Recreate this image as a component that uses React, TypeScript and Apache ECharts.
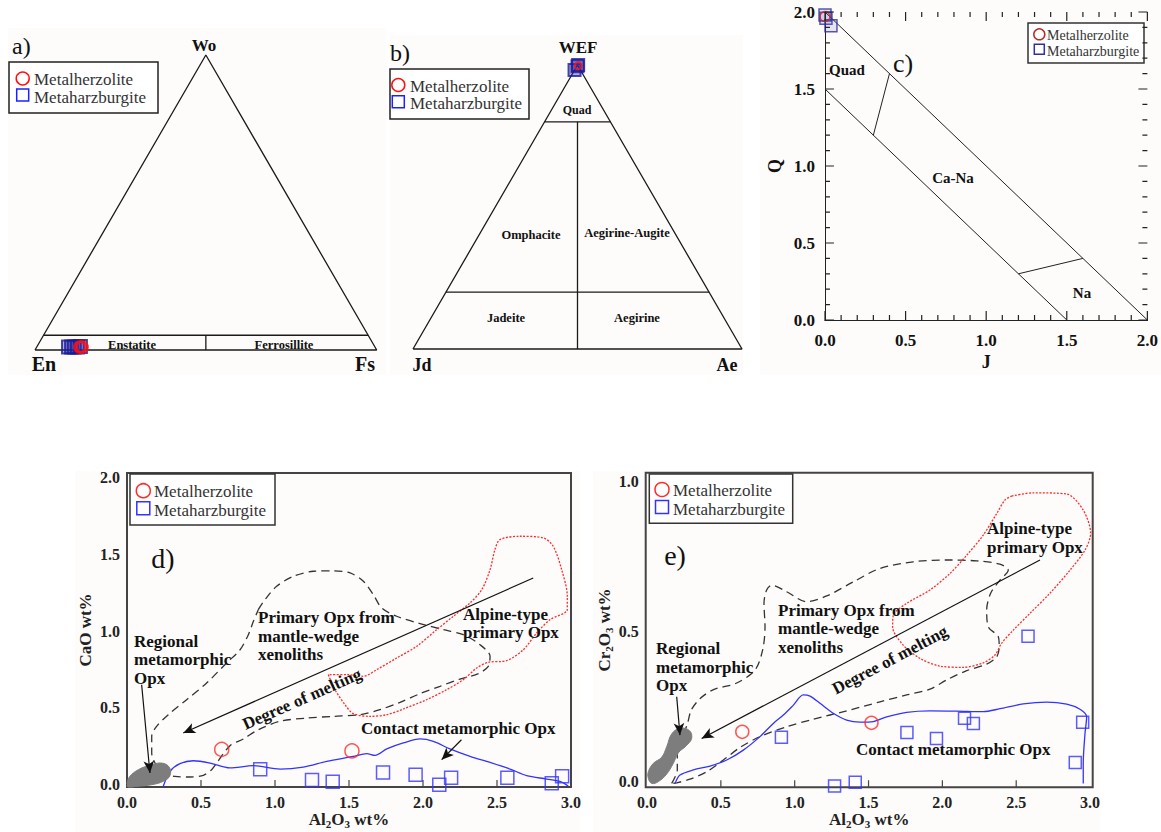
import React, { useEffect, useRef } from 'react';
import * as echarts from 'echarts';

const FONT = '"Liberation Serif", "Times New Roman", serif';

// ---------- Panel a : Wo-En-Fs ternary, points as [Wo %, Fs %] ----------
const triA = [[0, 0], [0, 100], [100, 0], [0, 0]];
const bandA = [[5, 0], [5, 95]];
const dividerA = [[0, 50], [5, 47.5]];
const lherzA = [[1.0, 12.6], [1.0, 13.3]];
const harzA = [[1.0, 9.3], [1.0, 10.2], [1.0, 11.0], [1.0, 11.9], [1.2, 12.7]];

// ---------- Panel b : WEF-Jd-Ae ternary, points as [WEF %, Ae %] ----------
const triB = [[0, 0], [0, 100], [100, 0], [0, 0]];
const quadLineB = [[80, 0], [80, 20]];
const lowLineB = [[20, 0], [20, 80]];
const splitB = [[80, 10], [0, 50]];
const lherzB = [[99.8, 0.3]];
const harzB = [[98.2, 0], [99.6, 0.2], [100, 0.2]];

// ---------- Panel c : Q vs J ----------
const cOuter = [[0, 2], [2, 0]];
const cInner = [[0, 1.5], [1.5, 0]];
const cQuadSplit = [[0.3, 1.2], [0.4, 1.6]];
const cNaSplit = [[1.2, 0.3], [1.6, 0.4]];
const lherzC = [[0.0, 1.97]];
const harzC = [[0.0, 1.98], [0.006, 1.96], [0.037, 1.91]];
const cTickValues = [0, 0.1, 0.2, 0.3, 0.4, 0.5, 0.6, 0.7, 0.8, 0.9, 1.0, 1.1, 1.2, 1.3, 1.4, 1.5, 1.6, 1.7, 1.8, 1.9, 2.0];
const cLabelValues = [0, 0.5, 1.0, 1.5, 2.0];

// ---------- Panel d : CaO vs Al2O3 ----------
const dTicksX = [0, 0.5, 1.0, 1.5, 2.0, 2.5, 3.0];
const dTicksY = [0, 0.5, 1.0, 1.5, 2.0];
const lherzD = [[0.64, 0.23], [1.52, 0.22]];
const harzD = [[0.90, 0.10], [1.25, 0.03], [1.39, 0.02], [1.73, 0.08], [1.95, 0.065], [2.11, 0.0], [2.19, 0.045], [2.57, 0.045], [2.87, 0.01], [2.94, 0.055]];
const mantleD = [
  [0.887, 1.14], [0.932, 1.205], [1.011, 1.292], [1.124, 1.357], [1.259, 1.39], [1.394, 1.393], [1.507, 1.379], [1.597, 1.325],
  [1.664, 1.238], [1.721, 1.151], [1.822, 1.097], [1.98, 1.049], [2.137, 1.01], [2.272, 0.977], [2.385, 0.912], [2.453, 0.836],
  [2.441, 0.771], [2.374, 0.723], [2.25, 0.688], [2.115, 0.641], [1.98, 0.593], [1.845, 0.536], [1.709, 0.489], [1.574, 0.456],
  [1.394, 0.445], [1.214, 0.434], [1.034, 0.413], [0.887, 0.358], [0.786, 0.298], [0.696, 0.254], [0.606, 0.141], [0.572, 0.098],
  [0.516, 0.061], [0.426, 0.05], [0.324, 0.054], [0.245, 0.08], [0.196, 0.13], [0.167, 0.206], [0.167, 0.315], [0.2, 0.38],
  [0.279, 0.456], [0.403, 0.554], [0.538, 0.662], [0.673, 0.793], [0.764, 0.879], [0.82, 0.977], [0.854, 1.064], [0.887, 1.14]
];
const alpineD = [
  [1.36, 0.717], [1.405, 0.619], [1.473, 0.521], [1.529, 0.463], [1.642, 0.445], [1.755, 0.456], [1.867, 0.493], [2.025, 0.554],
  [2.16, 0.619], [2.272, 0.684], [2.363, 0.76], [2.441, 0.797], [2.565, 0.808], [2.678, 0.879], [2.768, 0.988], [2.858, 1.075],
  [2.975, 1.14], [2.975, 1.227], [2.937, 1.4], [2.88, 1.553], [2.813, 1.607], [2.655, 1.618], [2.52, 1.596], [2.486, 1.531],
  [2.453, 1.4], [2.397, 1.27], [2.318, 1.184], [2.205, 1.097], [2.093, 1.01], [1.957, 0.901], [1.822, 0.825], [1.687, 0.749],
  [1.597, 0.706], [1.484, 0.717], [1.36, 0.717]
];
const contactD = [
  [0.245, -0.01], [0.291, 0.087], [0.358, 0.137], [0.448, 0.156], [0.561, 0.141], [0.696, 0.109], [0.853, 0.124], [1.034, 0.102],
  [1.191, 0.115], [1.349, 0.152], [1.529, 0.184], [1.62, 0.202], [1.676, 0.191], [1.755, 0.233], [1.867, 0.272], [1.98, 0.298],
  [2.07, 0.282], [2.182, 0.233], [2.318, 0.184], [2.453, 0.145], [2.588, 0.102], [2.7, 0.059], [2.836, 0.037], [2.926, 0.021], [2.982, -0.01]
];
const regionalD = [
  [0.0, 0.0], [0.016, 0.05], [0.077, 0.098], [0.155, 0.126], [0.234, 0.141], [0.286, 0.113], [0.29, 0.059], [0.245, 0.022],
  [0.167, 0.0], [0.077, -0.01], [0.007, -0.015]
];
const arrowsD = [
  [[2.745, 1.346], [0.38, 0.337]],
  [[0.099, 0.651], [0.155, 0.076]],
  [[2.26, 0.293], [2.126, 0.163]]
];

// ---------- Panel e : Cr2O3 vs Al2O3 ----------
const eTicksX = [0, 0.5, 1.0, 1.5, 2.0, 2.5, 3.0];
const eTicksY = [0, 0.5, 1.0];
const lherzE = [[0.645, 0.164], [1.52, 0.194]];
const harzE = [[0.91, 0.146], [1.27, -0.017], [1.41, -0.004], [1.76, 0.162], [1.96, 0.142], [2.15, 0.209], [2.21, 0.192], [2.58, 0.483], [2.90, 0.062], [2.95, 0.196]];
const mantleE = [
  [0.167, -0.008], [0.205, 0.037], [0.205, 0.087], [0.23, 0.142], [0.27, 0.185], [0.3, 0.237], [0.36, 0.275], [0.45, 0.305],
  [0.6, 0.325], [0.731, 0.37], [0.783, 0.437], [0.799, 0.514], [0.792, 0.592], [0.81, 0.637], [0.844, 0.653], [0.946, 0.631],
  [1.081, 0.598], [1.217, 0.617], [1.397, 0.664], [1.578, 0.709], [1.803, 0.731], [2.029, 0.737], [2.232, 0.734], [2.39, 0.723],
  [2.446, 0.703], [2.39, 0.67], [2.327, 0.626], [2.3, 0.57], [2.311, 0.514], [2.379, 0.481], [2.385, 0.448], [2.368, 0.414],
  [2.3, 0.39], [2.165, 0.368], [2.029, 0.337], [1.916, 0.306], [1.758, 0.287], [1.578, 0.264], [1.352, 0.234], [1.126, 0.206],
  [0.946, 0.181], [0.765, 0.148], [0.63, 0.112], [0.517, 0.07], [0.404, 0.031], [0.291, 0.006], [0.201, -0.006], [0.167, -0.008]
];
const alpineE = [
  [2.469, 0.95], [2.615, 0.961], [2.841, 0.957], [2.954, 0.903], [3.004, 0.826], [2.966, 0.77], [2.864, 0.703], [2.728, 0.626],
  [2.593, 0.559], [2.48, 0.503], [2.401, 0.459], [2.356, 0.42], [2.277, 0.394], [2.142, 0.379], [1.984, 0.383], [1.848, 0.409],
  [1.735, 0.453], [1.663, 0.514], [1.668, 0.553], [1.758, 0.592], [1.916, 0.637], [2.051, 0.692], [2.165, 0.753], [2.277, 0.82],
  [2.368, 0.892], [2.424, 0.937], [2.469, 0.95]
];
const contactE = [
  [0.19, -0.008], [0.223, 0.02], [0.314, 0.037], [0.427, 0.05], [0.54, 0.07], [0.652, 0.103], [0.765, 0.148], [0.855, 0.192],
  [0.923, 0.22], [0.991, 0.253], [1.058, 0.287], [1.104, 0.283], [1.171, 0.259], [1.261, 0.226], [1.352, 0.203], [1.442, 0.196],
  [1.532, 0.198], [1.623, 0.214], [1.758, 0.229], [1.916, 0.234], [2.097, 0.233], [2.277, 0.231], [2.39, 0.241], [2.548, 0.257],
  [2.706, 0.263], [2.842, 0.256], [2.932, 0.239], [2.977, 0.214], [2.966, 0.159], [2.954, 0.059], [2.954, -0.008]
];
const regionalE = [
  [0.009, 0.031], [0.043, 0.059], [0.099, 0.079], [0.133, 0.114], [0.167, 0.157], [0.223, 0.176], [0.287, 0.168], [0.302, 0.142],
  [0.264, 0.117], [0.212, 0.094], [0.178, 0.059], [0.133, 0.023], [0.077, -0.002], [0.032, -0.008], [0.009, 0.009]
];
const arrowsE = [
  [[2.661, 0.737], [0.37, 0.142]],
  [[0.201, 0.281], [0.223, 0.153]]
];

const RED = '#ff2a2a';
const BLUE = '#3333ff';

// grid boxes (pixels) and axis extents
const C_BOX = { left: 825, top: 12, width: 325, height: 308 };
const D_BOX = { left: 127, top: 473, width: 444, height: 314 };
const E_BOX = { left: 645.7, top: 472.7, width: 447, height: 314.6 };
const C_EXT = { x0: 0, x1: 2, y0: 0, y1: 2 };
const D_EXT = { x0: 0, x1: 3, y0: -0.015, y1: 2.03 };
const E_EXT = { x0: -0.009, x1: 3.018, y0: -0.021, y1: 1.028 };

const tern = (p: number[]) => [(p[1] + p[0] / 2) / 100, p[0] / 100];

const lineSeries = (data: any[], idx: number, style: any, smooth: number | boolean = false, extra: any = {}) => ({
  type: 'line', data, xAxisIndex: idx, yAxisIndex: idx, symbol: 'none', smooth, silent: true, clip: false,
  lineStyle: style, z: 3, ...extra,
});

const scatter = (name: string, data: number[][], idx: number, symbol: string, size: number, color: string, fill = 'transparent', bw = 1.5) => ({
  type: 'scatter', name, data, xAxisIndex: idx, yAxisIndex: idx, symbol, symbolSize: size, clip: false, silent: true, z: 5,
  itemStyle: { color: fill, borderColor: color, borderWidth: bw },
});

const blob = (pts: number[][], idx: number) => ({
  type: 'custom', xAxisIndex: idx, yAxisIndex: idx, silent: true, clip: false, z: 4,
  data: [pts[0]],
  renderItem: (params: any, api: any) => ({
    type: 'polygon',
    shape: { points: pts.map((p) => api.coord(p)), smooth: 0.4 },
    style: { fill: '#7d7d7d', stroke: '#7d7d7d' },
  }),
});

// tick marks as data-space segments: pixel length converted with the grid's scale
const isMajor = (v: number) => Math.abs(v * 2 - Math.round(v * 2)) < 1e-6;
const edgeTicks = (ext: any, box: any, xs: number[], ys: number[], lenFn: (v: number) => number, sides: string[], outward = false) => {
  const ux = (ext.x1 - ext.x0) / box.width;
  const uy = (ext.y1 - ext.y0) / box.height;
  const s = outward ? -1 : 1;
  const out: number[][][] = [];
  if (sides.includes('bottom')) xs.forEach((v) => out.push([[v, ext.y0], [v, ext.y0 + s * lenFn(v) * uy]]));
  if (sides.includes('top')) xs.forEach((v) => out.push([[v, ext.y1], [v, ext.y1 - s * lenFn(v) * uy]]));
  if (sides.includes('left')) ys.forEach((v) => out.push([[ext.x0, v], [ext.x0 + s * lenFn(v) * ux, v]]));
  if (sides.includes('right')) ys.forEach((v) => out.push([[ext.x1, v], [ext.x1 - s * lenFn(v) * ux, v]]));
  return out;
};
const cTicks = edgeTicks(C_EXT, C_BOX, cTickValues, cTickValues, (v) => (isMajor(v) ? 9 : 5), ['bottom', 'top', 'left', 'right']);
const dTicks = [
  ...edgeTicks(D_EXT, D_BOX, dTicksX.filter((v) => v > 0 && v < 3), [], () => 7, ['bottom']),
  ...edgeTicks(D_EXT, D_BOX, [], dTicksY, () => 5, ['left'], true),
];
const eTicks = [
  ...edgeTicks(E_EXT, E_BOX, eTicksX.filter((v) => v > 0 && v < 3), [], () => 7, ['bottom']),
  ...edgeTicks(E_EXT, E_BOX, [], eTicksY, () => 5, ['left'], true),
];
// one broken polyline per panel: segment, gap, segment ...
const tickPath = (segs: number[][][]) => segs.flatMap((s) => [s[0], s[1], '-']);

const tickLineSeries = (segs: number[][][], idx: number, color: string) => ({
  type: 'line', data: tickPath(segs), xAxisIndex: idx, yAxisIndex: idx, symbol: 'none', silent: true, clip: false,
  connectNulls: false, z: 20, lineStyle: { color, width: 1.2 },
});

const arrowLines = (segs: number[][][]) => ({
  silent: true,
  symbol: ['none', 'arrow'],
  symbolSize: [8, 12],
  label: { show: false },
  emphasis: { disabled: true },
  lineStyle: { color: '#111', width: 1.2, type: 'solid' },
  data: segs.map((a) => [{ coord: a[0] }, { coord: a[1] }]),
});

const txt = (text: string, x: number, y: number, size: number, bold = true, align = 'left', rotDeg = 0, fill = '#111', extra: any = {}) => ({
  type: 'text', x, y, rotation: (rotDeg * Math.PI) / 180, z: 10,
  style: {
    text, fill, fontSize: size, fontFamily: FONT, fontWeight: bold ? 'bold' : 'normal',
    align, verticalAlign: 'middle', textAlign: align, textVerticalAlign: 'middle', ...extra,
  },
});

const legend = (x: number, y: number, w: number, h: number, mx: number, tx: number, y1: number, y2: number, fs: number, r: number, sq: number, red: string, blue: string, stroke = '#333') => [
  { type: 'rect', z: 9, shape: { x, y, width: w, height: h }, style: { fill: '#fff', stroke, lineWidth: 1.5 } },
  { type: 'circle', z: 10, shape: { cx: mx, cy: y1, r }, style: { fill: 'none', stroke: red, lineWidth: 1.5 } },
  { type: 'rect', z: 10, shape: { x: mx - sq / 2, y: y2 - sq / 2, width: sq, height: sq }, style: { fill: 'none', stroke: blue, lineWidth: 1.5 } },
  txt('Metalherzolite', tx, y1 + 1, fs, false, 'left', 0, '#333'),
  txt('Metaharzburgite', tx, y2 + 2, fs, false, 'left', 0, '#333'),
];

const bg = (x: number, y: number, w: number, h: number) => ({
  type: 'rect', z: -5, shape: { x, y, width: w, height: h }, style: { fill: '#fdfcfa', stroke: 'none' },
});

const fmt = (v: number) => v.toFixed(1);

const labelD = { fontSize: 16, fontWeight: 'bold', fontFamily: FONT, color: '#222' };
const rich = {
  b: { fontSize: 17, fontWeight: 'bold', fontFamily: FONT, color: '#222' },
  s: { fontSize: 11, fontWeight: 'bold', fontFamily: FONT, color: '#222', padding: [9, 0, 0, 0] },
};

const hiddenAxis = (gridIndex: number) => ({ type: 'value', gridIndex, min: 0, max: 1, show: false });

const cAxisCommon = {
  type: 'value', gridIndex: 2, min: C_EXT.x0, max: C_EXT.x1,
  axisLine: { show: true, lineStyle: { color: '#222', width: 1 } },
  axisTick: { show: false },
  splitLine: { show: false },
};

export default function App() {
  const ref = useRef<HTMLDivElement>(null);

  useEffect(() => {
    if (!ref.current) return;
    const chart = echarts.init(ref.current, null, { renderer: 'svg' });
    const black = { color: '#1a1a1a', width: 1.3 };

    const option: any = {
      animation: false,
      backgroundColor: '#ffffff',
      grid: [
        { left: 35, top: 55, width: 341.7, height: 295 },
        { left: 413, top: 65, width: 329, height: 284 },
        { ...C_BOX },
        { ...D_BOX, show: true, borderColor: '#444', borderWidth: 2, backgroundColor: 'transparent' },
        { ...E_BOX, show: true, borderColor: '#444', borderWidth: 2, backgroundColor: 'transparent' },
      ],
      xAxis: [
        hiddenAxis(0),
        hiddenAxis(1),
        {
          ...cAxisCommon, position: 'bottom',
          axisLabel: { formatter: fmt, margin: 12, fontSize: 17, fontWeight: 'bold', fontFamily: FONT, color: '#111', customValues: cLabelValues },
          name: 'J', nameLocation: 'middle', nameGap: 33,
          nameTextStyle: { fontSize: 18, fontWeight: 'bold', fontFamily: FONT, color: '#111' },
        },
        {
          type: 'value', gridIndex: 3, min: D_EXT.x0, max: D_EXT.x1,
          axisLine: { show: false }, splitLine: { show: false }, axisTick: { show: false },
          axisLabel: { ...labelD, formatter: fmt, margin: 7, customValues: dTicksX },
          name: '{b|Al}{s|2}{b|O}{s|3}{b| wt%}', nameLocation: 'middle', nameGap: 22,
          nameTextStyle: { rich },
        },
        {
          type: 'value', gridIndex: 4, min: E_EXT.x0, max: E_EXT.x1,
          axisLine: { show: false }, splitLine: { show: false }, axisTick: { show: false },
          axisLabel: { ...labelD, formatter: fmt, margin: 7, customValues: eTicksX },
          name: '{b|Al}{s|2}{b|O}{s|3}{b| wt%}', nameLocation: 'middle', nameGap: 22,
          nameTextStyle: { rich },
        },
        { ...cAxisCommon, position: 'top', axisLabel: { show: false } },
      ],
      yAxis: [
        hiddenAxis(0),
        hiddenAxis(1),
        {
          ...cAxisCommon, min: C_EXT.y0, max: C_EXT.y1, position: 'left',
          axisLabel: { formatter: fmt, margin: 10, fontSize: 17, fontWeight: 'bold', fontFamily: FONT, color: '#111', customValues: cLabelValues },
          name: 'Q', nameLocation: 'middle', nameGap: 41, nameRotate: 90,
          nameTextStyle: { fontSize: 18, fontWeight: 'bold', fontFamily: FONT, color: '#111' },
        },
        {
          type: 'value', gridIndex: 3, min: D_EXT.y0, max: D_EXT.y1,
          axisLine: { show: false }, splitLine: { show: false }, axisTick: { show: false },
          axisLabel: { ...labelD, formatter: fmt, margin: 7, customValues: dTicksY },
          name: 'CaO wt%', nameLocation: 'middle', nameGap: 33, nameRotate: 90,
          nameTextStyle: { fontSize: 17, fontWeight: 'bold', fontFamily: FONT, color: '#222' },
        },
        {
          type: 'value', gridIndex: 4, min: E_EXT.y0, max: E_EXT.y1,
          axisLine: { show: false }, splitLine: { show: false }, axisTick: { show: false },
          axisLabel: { ...labelD, formatter: fmt, margin: 7, customValues: eTicksY },
          name: '{b|Cr}{s|2}{b|O}{s|3}{b| wt%}', nameLocation: 'middle', nameGap: 31, nameRotate: 90,
          nameTextStyle: { rich },
        },
        { ...cAxisCommon, min: C_EXT.y0, max: C_EXT.y1, position: 'right', axisLabel: { show: false } },
      ],
      series: [
        // a
        lineSeries(triA.map(tern), 0, black),
        lineSeries(bandA.map(tern), 0, black),
        lineSeries(dividerA.map(tern), 0, black),
        scatter('Metaharzburgite', harzA.map(tern), 0, 'rect', 13, '#1c1c96', 'rgba(40,40,170,0.45)', 2),
        scatter('Metalherzolite', lherzA.map(tern), 0, 'circle', 11, '#ff1010', 'transparent', 2.5),
        // b
        lineSeries(triB.map(tern), 1, black),
        lineSeries(quadLineB.map(tern), 1, black),
        lineSeries(lowLineB.map(tern), 1, black),
        lineSeries(splitB.map(tern), 1, black),
        scatter('Metaharzburgite', harzB.map(tern), 1, 'rect', 12, '#1c1c96', 'rgba(40,40,170,0.45)', 2),
        scatter('Metalherzolite', lherzB.map(tern), 1, 'circle', 7, '#ff1010', 'transparent', 2),
        // c
        tickLineSeries(cTicks, 2, '#222'),
        lineSeries(cOuter, 2, { color: '#222', width: 1 }),
        lineSeries(cInner, 2, { color: '#222', width: 1 }),
        lineSeries(cQuadSplit, 2, { color: '#222', width: 1 }),
        lineSeries(cNaSplit, 2, { color: '#222', width: 1 }),
        scatter('Metaharzburgite', harzC, 2, 'rect', 12, '#3030a0', 'rgba(60,60,170,0.15)', 1.5),
        scatter('Metalherzolite', lherzC, 2, 'circle', 10, '#c02828', 'transparent', 1.5),
        // d
        tickLineSeries(dTicks, 3, '#444'),
        blob(regionalD, 3),
        lineSeries(mantleD, 3, { color: '#333', width: 1.3, type: [8, 5] }, 0.3, { markLine: arrowLines(arrowsD) }),
        lineSeries(alpineD, 3, { color: RED, width: 1.3, type: [2, 1.5] }, 0.3),
        lineSeries(contactD, 3, { color: BLUE, width: 1.3 }, 0.3),
        scatter('Metalherzolite', lherzD, 3, 'circle', 14, RED, 'transparent', 1.5),
        scatter('Metaharzburgite', harzD, 3, 'rect', 13, BLUE, 'transparent', 1.5),
        // e
        tickLineSeries(eTicks, 4, '#444'),
        blob(regionalE, 4),
        lineSeries(mantleE, 4, { color: '#333', width: 1.3, type: [8, 5] }, 0.3, { markLine: arrowLines(arrowsE) }),
        lineSeries(alpineE, 4, { color: RED, width: 1.3, type: [2, 1.5] }, 0.3),
        lineSeries(contactE, 4, { color: BLUE, width: 1.3 }, 0.3),
        scatter('Metalherzolite', lherzE, 4, 'circle', 13, RED, 'transparent', 1.5),
        scatter('Metaharzburgite', harzE, 4, 'rect', 12, BLUE, 'transparent', 1.5),
      ],
      graphic: {
        elements: [
          bg(8, 28, 378, 347),
          bg(390, 35, 353, 340),
          bg(760, 0, 401, 375),
          bg(75, 471, 505, 361),
          bg(593, 471, 507, 361),
          // panel a
          txt('a)', 12, 46, 24, false),
          txt('Wo', 204, 45, 17, true, 'center'),
          txt('En', 44, 364, 20, true, 'center'),
          txt('Fs', 365, 364, 20, true, 'center'),
          txt('Enstatite', 132, 345, 12.5, true, 'center'),
          txt('Ferrosillite', 284, 345, 12.5, true, 'center'),
          ...legend(9, 62, 149, 51, 22.7, 34, 78.5, 95, 17, 6.5, 12, '#ff1010', '#2020ff', '#222'),
          // panel b
          txt('b)', 390, 53, 24, false),
          txt('WEF', 578, 47, 17, true, 'center'),
          txt('Quad', 577, 110, 12, true, 'center'),
          txt('Omphacite', 531, 235, 12.5, true, 'center'),
          txt('Aegirine-Augite', 627, 233, 12.5, true, 'center'),
          txt('Jadeite', 506, 318, 12.5, true, 'center'),
          txt('Aegirine', 637, 318, 12.5, true, 'center'),
          txt('Jd', 422, 365, 18, true, 'center'),
          txt('Ae', 727, 365, 18, true, 'center'),
          ...legend(390, 69, 139, 50, 398.3, 410, 85, 101.7, 17, 6.5, 12, '#ff1010', '#2020ff', '#222'),
          // panel c
          txt('c)', 903, 63, 26, false, 'center'),
          txt('Quad', 829, 70, 15, true, 'left'),
          txt('Ca-Na', 953, 178, 15, true, 'center'),
          txt('Na', 1082, 293, 15, true, 'center'),
          ...legend(1028, 23, 116, 40, 1039.3, 1047, 34.3, 49.3, 14, 5.5, 10, '#c02828', '#3030a0', '#333'),
          // panel d
          txt('d)', 163, 558, 28, false, 'center'),
          txt('Regional', 134, 641, 17),
          txt('metamorphic', 134, 659, 17),
          txt('Opx', 134, 678, 17),
          txt('Primary Opx from', 258, 617, 17),
          txt('mantle-wedge', 258, 636, 17),
          txt('xenoliths', 258, 654, 17),
          txt('Alpine-type', 463, 614, 17),
          txt('primary Opx', 463, 632, 17),
          txt('Contact metamorphic Opx', 361, 728, 17),
          txt('Degree of melting', 302, 699, 17, true, 'center', 24),
          ...legend(130, 474, 145, 51, 143.3, 154, 490.7, 508.3, 17, 7, 13, RED, BLUE),
          // panel e
          txt('e)', 675, 555, 28, false, 'center'),
          txt('Regional', 656, 648, 17),
          txt('metamorphic', 656, 667, 17),
          txt('Opx', 656, 685, 17),
          txt('Primary Opx from', 778, 610, 17),
          txt('mantle-wedge', 778, 628, 17),
          txt('xenoliths', 778, 647, 17),
          txt('Alpine-type', 987, 528, 17),
          txt('primary Opx', 987, 547, 17),
          txt('Contact metamorphic Opx', 856, 749, 17),
          txt('Degree of melting', 890, 660, 17, true, 'center', 28),
          ...legend(649.3, 474, 143.4, 49.3, 662, 673, 489.5, 507, 17, 7, 13, RED, BLUE),
        ],
      },
    };

    chart.setOption(option);
    return () => chart.dispose();
  }, []);

  return (
    <div
      ref={ref}
      style={{ position: 'absolute', left: 0, top: 0, width: 1161, height: 832, background: '#fff' }}
    />
  );
}
